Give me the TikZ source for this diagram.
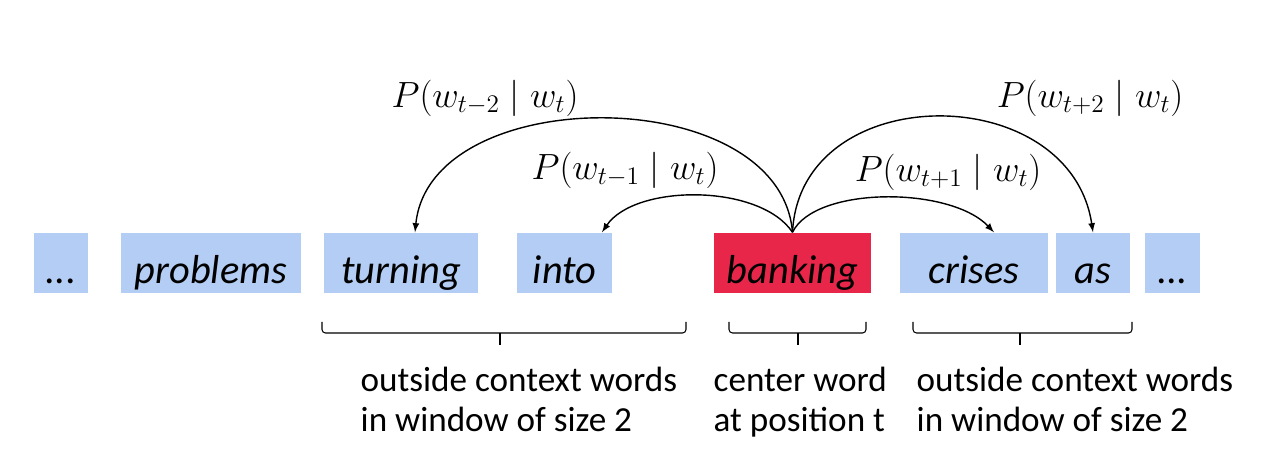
\documentclass[tikz,border=0pt]{standalone}
\usepackage{fontspec}
\setmainfont{Carlito}
\definecolor{wordblue}{RGB}{180,205,244}
\definecolor{centerred}{RGB}{232,38,74}
\begin{document}
\begin{tikzpicture}[>=latex, line width=0.8pt,
    word/.style={fill=wordblue, minimum height=1.2cm, inner sep=0pt, text height=1.02cm, text depth=0.18cm, font=\fontsize{23}{26}\selectfont\itshape},
    prob/.style={inner sep=0pt, font=\fontsize{22}{26}\selectfont},
    note/.style={align=left, anchor=north west, inner sep=0pt, font=\fontsize{20}{22.8}\selectfont}]
    \useasboundingbox (0,0) rectangle (25.68,9.32);
    % the sentence
    \node[word, minimum width=1.08cm] (dotsl) at (1.22,4.06) {...};
    \node[word, minimum width=3.6cm] (problems) at (4.22,4.06) {problems};
    \node[word, minimum width=3.08cm] (turning) at (8.02,4.06) {turning};
    \node[word, minimum width=1.9cm] (into) at (11.29,4.06) {into};
    \node[word, fill=centerred, minimum width=3.14cm] (banking) at (15.85,4.06) {banking};
    \node[word, minimum width=2.96cm] (crises) at (19.48,4.06) {crises};
    \node[word, minimum width=1.48cm] (as) at (21.86,4.06) {as};
    \node[word, minimum width=1.1cm] (dotsr) at (23.45,4.06) {...};
    % context probabilities
    \draw[->] (banking.north) .. controls (15.6,7.7) and (8.6,7.7) .. ([xshift=0.28cm]turning.north);
    \draw[->] (banking.north) .. controls (15.2,5.65) and (12.7,5.65) .. ([xshift=0.75cm]into.north);
    \draw[->] (banking.north) .. controls (16.3,5.6) and (19.0,5.6) .. ([xshift=0.4cm]crises.north);
    \draw[->] (banking.north) .. controls (16.0,7.75) and (21.4,7.75) .. (as.north);
    \node[prob] (pm2) at (9.7,7.36) {$P(w_{t-2}\mid w_t)$};
    \node[prob] (pm1) at (12.5,5.92) {$P(w_{t-1}\mid w_t)$};
    \node[prob] (pp1) at (18.96,5.88) {$P(w_{t+1}\mid w_t)$};
    \node[prob] (pp2) at (21.8,7.36) {$P(w_{t+2}\mid w_t)$};
    % braces
    \draw[line width=0.6pt, rounded corners=2pt] (6.44,2.88)--(6.44,2.66)--(13.72,2.66)--(13.72,2.88);
    \draw[line width=0.6pt] (10.0,2.66)--(10.0,2.42);
    \draw[line width=0.6pt, rounded corners=2pt] (14.58,2.88)--(14.58,2.66)--(17.32,2.66)--(17.32,2.88);
    \draw[line width=0.6pt] (15.96,2.66)--(15.96,2.42);
    \draw[line width=0.6pt, rounded corners=2pt] (18.26,2.88)--(18.26,2.66)--(22.64,2.66)--(22.64,2.88);
    \draw[line width=0.6pt] (20.4,2.66)--(20.4,2.42);
    \node[note] (leftctx) at (7.2,2.0) {outside context words\\in window of size 2};
    \node[note] (center) at (14.26,2.0) {center word\\at position t};
    \node[note] (rightctx) at (18.32,2.0) {outside context words\\in window of size 2};
\end{tikzpicture}
\end{document}
